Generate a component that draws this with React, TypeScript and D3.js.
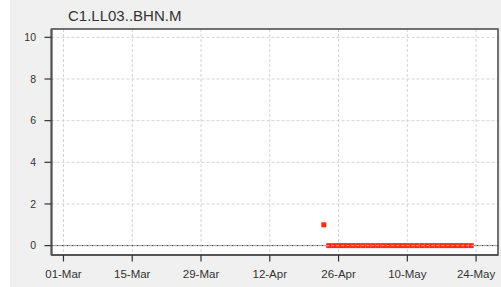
import React from "react";
import * as d3 from "d3";

const title = "C1.LL03..BHN.M";
const yTicks = [0, 2, 4, 6, 8, 10];
const xDomain = ["2021-02-26T16", "2021-05-28T11"];
const xTickDates = ["2021-03-01", "2021-03-15", "2021-03-29", "2021-04-12", "2021-04-26", "2021-05-10", "2021-05-24"];
const pointDates = [
  "2021-04-23",
  "2021-04-24", "2021-04-25", "2021-04-26", "2021-04-27", "2021-04-28", "2021-04-29", "2021-04-30",
  "2021-05-01", "2021-05-02", "2021-05-03", "2021-05-04", "2021-05-05", "2021-05-06", "2021-05-07",
  "2021-05-08", "2021-05-09", "2021-05-10", "2021-05-11", "2021-05-12", "2021-05-13", "2021-05-14",
  "2021-05-15", "2021-05-16", "2021-05-17", "2021-05-18", "2021-05-19", "2021-05-20", "2021-05-21",
  "2021-05-22", "2021-05-23",
];
const pointValues = [
  1,
  0, 0, 0, 0, 0, 0, 0,
  0, 0, 0, 0, 0, 0, 0,
  0, 0, 0, 0, 0, 0, 0,
  0, 0, 0, 0, 0, 0, 0,
  0, 0,
];

const W = 501, H = 287;
const left = 51.5, right = 498, top = 29, bottom = 255;

export default function App() {
  const parse = d3.utcParse("%Y-%m-%d");
  const parseH = d3.utcParse("%Y-%m-%dT%H");
  const x = d3.scaleUtc()
    .domain(xDomain.map((s) => parseH(s)!))
    .range([left + 0.5, right]);
  const y = d3.scaleLinear().domain([-0.45, 10.4]).range([bottom, top]);
  const fmt = d3.utcFormat("%d-%b");
  const xt = xTickDates.map((s) => parse(s)!);
  const pts = pointDates.map((s, i) => ({ d: parse(s)!, v: pointValues[i] }));
  const zeroPts = pts.filter((p) => p.v === 0);
  const sz = 5;
  return (
    <svg width={W} height={H} style={{ position: "absolute", left: 0, top: 0 }} fontFamily="'Liberation Sans', Arial, sans-serif">
      <rect x={0} y={0} width={W} height={H} fill="#ffffff" />
      <rect x={10} y={0} width={W - 10} height={H} fill="#f0f0f0" />
      <rect x={left} y={top} width={right - left} height={bottom - top} fill="#ffffff" />
      {xt.map((d, i) => (
        <line key={"gx" + i} x1={x(d)} x2={x(d)} y1={top} y2={bottom} stroke="#d4d4d4" strokeDasharray="3,2" />
      ))}
      {yTicks.filter((t) => t !== 0).map((t) => (
        <line key={"gy" + t} x1={left} x2={right} y1={y(t)} y2={y(t)} stroke="#d4d4d4" strokeDasharray="3,2" />
      ))}
      <line x1={left} x2={right} y1={y(0)} y2={y(0)} stroke="#333" strokeDasharray="2,1,1,1" strokeWidth={1} />
      {pts.map((p, i) => (
        <rect key={"p" + i} x={x(p.d) - sz / 2} y={y(p.v) - sz / 2} width={sz} height={sz} fill="#ff2a12" />
      ))}
      {zeroPts.length > 0 && (
        <line x1={x(zeroPts[0].d) - sz / 2} x2={x(zeroPts[zeroPts.length - 1].d) + sz / 2} y1={y(0)} y2={y(0)}
          stroke="#ff9a8a" strokeDasharray="3,2" strokeWidth={1} />
      )}
      <rect x={left} y={top} width={right - left} height={bottom - top} fill="none" stroke="#444" strokeWidth={1.5} />
      <line x1={left} x2={left} y1={top} y2={bottom} stroke="#555" strokeWidth={2} />
      <line x1={left} x2={right} y1={bottom} y2={bottom} stroke="#555" strokeWidth={2} />
      {yTicks.map((t) => (
        <g key={"yt" + t}>
          <line x1={44.5} x2={left} y1={y(t)} y2={y(t)} stroke="#333" strokeWidth={1.2} />
          <text x={36} y={y(t)} dy="0.35em" textAnchor="end" fontSize={10.5} fill="#333">{t}</text>
        </g>
      ))}
      {xt.map((d, i) => (
        <g key={"xt" + i}>
          <line x1={x(d)} x2={x(d)} y1={bottom} y2={261.5} stroke="#333" strokeWidth={1.2} />
          <text x={x(d)} y={273.5} dy="0.35em" textAnchor="middle" fontSize={11.5} fill="#333">{fmt(d)}</text>
        </g>
      ))}
      <text x={68} y={20.5} fontSize={15} fill="#333">{title}</text>
    </svg>
  );
}
